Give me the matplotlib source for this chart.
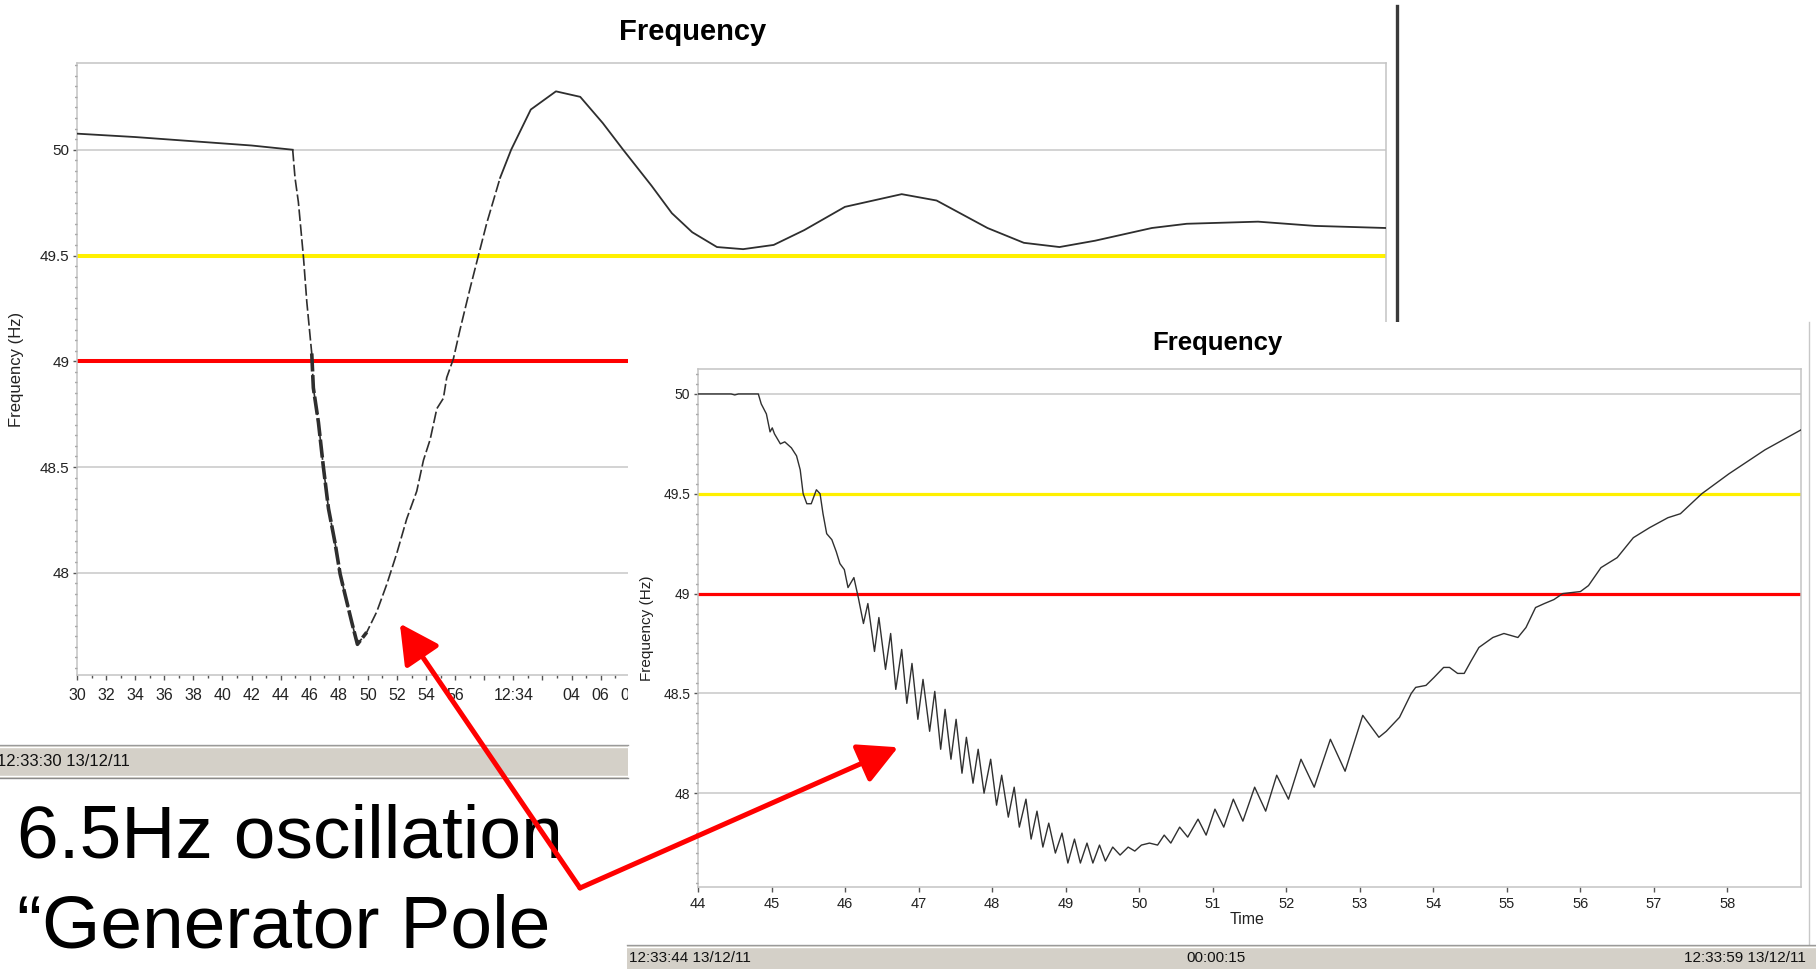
import numpy as np
import matplotlib
matplotlib.use("Agg")
import matplotlib.pyplot as plt
from matplotlib.patches import Rectangle
from matplotlib.lines import Line2D
from matplotlib.ticker import MultipleLocator

plt.rcParams['font.family'] = ['Liberation Sans', 'DejaVu Sans']

W, H = 1816, 969

# Overview recording: seconds after 12:33:30, frequency in Hz
overview_t = [0, 4, 8, 12, 14.83, 14.99, 15.22, 15.57, 15.80, 16.14, 16.25, 16.60,
              16.94, 17.29, 17.74, 18.09, 18.43, 18.89, 19.28, 19.92, 20.61, 21.30,
              21.99, 22.67, 23.36, 23.82, 24.28, 24.74, 25.19, 25.42, 25.88, 26.34,
              27.03, 27.60, 28.18, 29.09, 29.85, 31.2, 32.93, 34.6, 36.15, 37.55,
              39.5, 40.9, 42.3, 44.0, 45.8, 47.9, 50.0, 52.8, 56.7, 59.1, 62.6, 65.1,
              67.55, 70.0, 73.9, 76.3, 81.2, 85.1, 90.0]
overview_hz = [50.076, 50.06, 50.04, 50.02, 50.0, 49.867, 49.753, 49.492, 49.281, 49.037,
               48.874, 48.711, 48.50, 48.304, 48.142, 47.995, 47.897, 47.767, 47.662,
               47.719, 47.816, 47.946, 48.093, 48.255, 48.386, 48.532, 48.630, 48.776,
               48.825, 48.923, 49.012, 49.151, 49.346, 49.500, 49.655, 49.867, 50.0,
               50.19, 50.276, 50.25, 50.126, 50.0, 49.83, 49.70, 49.61, 49.54, 49.53,
               49.55, 49.62, 49.73, 49.79, 49.76, 49.63, 49.56, 49.54, 49.57, 49.63,
               49.65, 49.66, 49.64, 49.63]
overview_ticks = list(range(0, 92, 2))
overview_tick_labels = ['30', '32', '34', '36', '38', '40', '42', '44', '46', '48', '50',
                        '52', '54', '56', '', '12:34', '', '04', '06', '08', '10', '12',
                        '14', '16', '18', '20', '22', '24', '26', '28', '30', '32', '34',
                        '36', '38', '40', '42', '44', '46', '48', '50', '52', '54', '56',
                        '', '12:35']
overview_visible_until = 38  # later labels sit under the second window

# Zoomed recording: seconds of minute 12:33, frequency in Hz
zoom_t = [44.0, 44.45, 44.5, 44.55, 44.82, 44.86, 44.93, 44.98, 45.01, 45.04, 45.12,
          45.18, 45.27, 45.34, 45.39, 45.43, 45.48, 45.54, 45.61, 45.66, 45.70, 45.75,
          45.82, 45.88, 45.93, 45.99, 46.04, 46.12, 46.18, 46.25, 46.31, 46.40, 46.46,
          46.55, 46.62, 46.69, 46.77, 46.84, 46.91, 46.99, 47.06, 47.15, 47.22, 47.30,
          47.36, 47.44, 47.51, 47.59, 47.65, 47.74, 47.81, 47.89, 47.98, 48.06, 48.13,
          48.22, 48.30, 48.37, 48.46, 48.53, 48.61, 48.69, 48.77, 48.86, 48.95, 49.03,
          49.12, 49.20, 49.29, 49.37, 49.46, 49.54, 49.64, 49.74, 49.85, 49.94, 50.03,
          50.14, 50.25, 50.34, 50.43, 50.55, 50.66, 50.80, 50.91, 51.03, 51.15, 51.28,
          51.41, 51.57, 51.72, 51.87, 52.03, 52.20, 52.38, 52.60, 52.80, 53.04, 53.26,
          53.36, 53.54, 53.70, 53.76, 53.90, 54.01, 54.14, 54.22, 54.33, 54.42, 54.51,
          54.62, 54.81, 54.96, 55.15, 55.26, 55.39, 55.51, 55.64, 55.76, 56.0, 56.11,
          56.28, 56.50, 56.72, 56.94, 57.19, 57.36, 57.65, 58.02, 58.51, 59.0]
zoom_hz = [50.0, 50.0, 49.995, 50.0, 50.0, 49.95, 49.90, 49.81, 49.83, 49.80, 49.75,
           49.76, 49.73, 49.69, 49.62, 49.50, 49.45, 49.45, 49.52, 49.50, 49.40, 49.30,
           49.27, 49.21, 49.15, 49.12, 49.03, 49.08, 48.98, 48.85, 48.95, 48.71, 48.88,
           48.62, 48.80, 48.52, 48.72, 48.45, 48.65, 48.37, 48.57, 48.31, 48.51, 48.22,
           48.42, 48.17, 48.37, 48.10, 48.28, 48.05, 48.22, 48.00, 48.17, 47.94, 48.09,
           47.88, 48.03, 47.83, 47.97, 47.77, 47.91, 47.73, 47.85, 47.70, 47.80, 47.65,
           47.77, 47.65, 47.75, 47.65, 47.74, 47.66, 47.73, 47.69, 47.73, 47.71, 47.74,
           47.75, 47.74, 47.79, 47.75, 47.83, 47.78, 47.87, 47.79, 47.92, 47.83, 47.97,
           47.86, 48.03, 47.91, 48.09, 47.97, 48.17, 48.03, 48.27, 48.11, 48.39, 48.28,
           48.31, 48.38, 48.50, 48.53, 48.54, 48.58, 48.63, 48.63, 48.60, 48.60, 48.66,
           48.73, 48.78, 48.80, 48.78, 48.83, 48.93, 48.95, 48.97, 49.00, 49.01, 49.04,
           49.13, 49.18, 49.28, 49.33, 49.38, 49.40, 49.50, 49.60, 49.72, 49.82]
zoom_ticks = list(range(44, 59))
zoom_tick_labels = [str(s) for s in zoom_ticks]

y_ticks = [48, 48.5, 49, 49.5, 50]
y_tick_labels = ['48', '48.5', '49', '49.5', '50']
ALERT_HZ = 49.5
TRIP_HZ = 49.0

note_lines = ['6.5Hz oscillation', '\u201cGenerator Pole']
arrow_targets = [(22.2, 47.76), (46.72, 48.23)]
status_top = '12:33:30 13/12/11'
status_bottom = ['12:33:44 13/12/11', '00:00:15', '12:33:59 13/12/11']


def box(l, t, r, b):
    # pixel box (top-left origin) -> figure fraction rect
    return [l / W, 1 - b / H, (r - l) / W, (b - t) / H]


def fx(x):
    return x / W


def fy(y):
    return 1 - y / H


def style_axes(ax, ylim, ysize, xsize, lw_thr, xpad):
    ax.set_ylim(*ylim)
    ax.set_yticks(y_ticks)
    ax.set_yticklabels(y_tick_labels)
    ax.yaxis.set_minor_locator(MultipleLocator(0.05))
    for s in ax.spines.values():
        s.set_color('#c4c4c4')
        s.set_linewidth(1.1)
    ax.grid(axis='y', which='major', color='#c8c8c8', lw=1.1, zorder=1)
    ax.set_axisbelow(True)
    ax.tick_params(axis='y', which='major', length=3, width=1, color='#555555',
                   labelsize=ysize, pad=2.5, labelcolor='#222222')
    ax.tick_params(axis='y', which='minor', length=1.5, width=1, color='#555555')
    ax.tick_params(axis='x', which='major', length=3.5, width=1, color='#555555',
                   labelsize=xsize, pad=xpad, labelcolor='#222222')
    ax.tick_params(axis='x', which='minor', length=2.5, width=1, color='#555555')
    ax.axhline(ALERT_HZ, color='#fff000', lw=lw_thr, zorder=2)
    ax.axhline(TRIP_HZ, color='#ff0000', lw=lw_thr, zorder=2)


fig = plt.figure(figsize=(W / 100, H / 100), dpi=100)
fig.patch.set_facecolor('white')

# ---------- overview chart (top left window) ----------
ax1 = fig.add_axes(box(77, 63, 1386, 675), zorder=0)
ax1.set_xlim(0, 90)
style_axes(ax1, (47.517, 50.41), 11, 11.5, 2.9, 6)
ax1.set_xticks(overview_ticks)
ax1.set_xticklabels(overview_tick_labels)
ax1.xaxis.set_minor_locator(MultipleLocator(1))
for lab, tk in zip(ax1.get_xticklabels(), overview_ticks):
    if tk > overview_visible_until:
        lab.set_visible(False)

t1 = np.array(overview_t)
f1 = np.array(overview_hz)
solid_a = t1 <= 14.83
dashed = (t1 >= 14.83) & (t1 <= 29.09)
solid_b = t1 >= 29.09
band = (t1 >= 16.14) & (t1 <= 19.92)
ax1.plot(t1[solid_a], f1[solid_a], color='#2e2e2e', lw=1.3, zorder=3)
ax1.plot(t1[dashed], f1[dashed], color='#2e2e2e', lw=1.2, ls=(0, (7, 2)), zorder=3)
ax1.plot(t1[band], f1[band], color='#2e2e2e', lw=2.6, ls=(0, (5, 1)), zorder=3)
ax1.plot(t1[solid_b], f1[solid_b], color='#2e2e2e', lw=1.3, zorder=3)

ax1.text(0.4706, 1.0507, 'Frequency', transform=ax1.transAxes, ha='center',
         va='center', fontsize=21, fontweight='bold')
ax1.set_ylabel('Frequency (Hz)', fontsize=12, color='#222222')
ax1.yaxis.set_label_coords((24 - 77) / 1309, 0.5)

# window edge of the overview chart
fig.add_artist(Line2D([fx(1397), fx(1397)], [fy(6), fy(322)], color='#3a3a3a',
                      lw=2.4, transform=fig.transFigure, zorder=1))

# status bar of the overview window
fig.add_artist(Rectangle((0, fy(778)), fx(628), (778 - 745) / H, transform=fig.transFigure,
                         facecolor='#d4d0c8', edgecolor='none', zorder=1.5))
for yy, cc in [(745, '#9a9a9a'), (747, '#ffffff'), (776, '#ffffff'), (778, '#8a8a8a')]:
    fig.add_artist(Line2D([0, fx(628)], [fy(yy), fy(yy)], color=cc, lw=1,
                          transform=fig.transFigure, zorder=1.6))
fig.text(fx(-3), fy(761), status_top, ha='left', va='center', fontsize=12,
         color='#111111', zorder=2)

# ---------- zoomed chart window (bottom right) ----------
fig.add_artist(Rectangle((fx(628), 0), 1 - fx(628), fy(322), transform=fig.transFigure,
                         facecolor='white', edgecolor='none', zorder=1))
fig.add_artist(Line2D([fx(1809), fx(1809)], [fy(322), fy(945)], color='#c8c8c8', lw=1,
                      transform=fig.transFigure, zorder=1.2))

ax2 = fig.add_axes(box(698, 369, 1801, 887), zorder=2)
ax2.set_xlim(44, 59)
style_axes(ax2, (47.53, 50.125), 10, 10.5, 2.3, 4)
ax2.set_xticks(zoom_ticks)
ax2.set_xticklabels(zoom_tick_labels)
ax2.plot(zoom_t, zoom_hz, color='#303030', lw=1.0, zorder=3, solid_joinstyle='round')
ax2.text(0.4705, 1.0502, 'Frequency', transform=ax2.transAxes, ha='center',
         va='center', fontsize=18.5, fontweight='bold')
ax2.set_ylabel('Frequency (Hz)', fontsize=11, color='#222222')
ax2.yaxis.set_label_coords((654 - 698) / 1103, 0.5)
ax2.set_xlabel('Time', fontsize=11.5, color='#222222')
ax2.xaxis.set_label_coords(0.4977, -0.048)

fig.add_artist(Rectangle((fx(627), 0), 1 - fx(627), (969 - 945) / H,
                         transform=fig.transFigure, facecolor='#d4d0c8',
                         edgecolor='none', zorder=2.5))
for yy, cc in [(945, '#9a9a9a'), (947, '#ffffff')]:
    fig.add_artist(Line2D([fx(627), 1], [fy(yy), fy(yy)], color=cc, lw=1,
                          transform=fig.transFigure, zorder=2.6))
fig.text(fx(629), fy(958), status_bottom[0], ha='left', va='center', fontsize=11,
         color='#111111', zorder=3)
fig.text(fx(1216), fy(958), status_bottom[1], ha='center', va='center', fontsize=11,
         color='#111111', zorder=3)
fig.text(fx(1806), fy(958), status_bottom[2], ha='right', va='center', fontsize=11,
         color='#111111', zorder=3)

# ---------- slide annotation ----------
over = fig.add_axes([0, 0, 1, 1], zorder=10)
over.set_axis_off()
over.text(fx(17), fy(858), note_lines[0], transform=over.transAxes, ha='left',
          va='baseline', fontsize=54, color='black')
over.text(fx(17), fy(947), note_lines[1], transform=over.transAxes, ha='left',
          va='baseline', fontsize=54, color='black')

vertex = (fx(580), fy(888))
for ax, xy in zip([ax1, ax2], arrow_targets):
    over.annotate('', xy=xy, xycoords=ax.transData, xytext=vertex,
                  textcoords='figure fraction',
                  arrowprops=dict(arrowstyle='-|>,head_length=0.8,head_width=0.42',
                                  mutation_scale=30, lw=3.6, color='#ff0000',
                                  shrinkA=0, shrinkB=0, capstyle='round'))

fig.savefig('out.png', dpi=100)
